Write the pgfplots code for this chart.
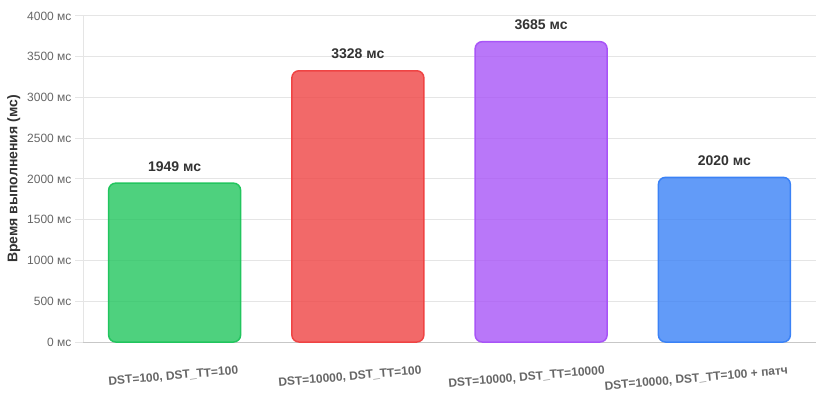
\documentclass[border=0pt]{standalone}
\usepackage{pgfplots}
\pgfplotsset{compat=1.18}
\usepackage{fontspec}
\setmainfont{Liberation Sans}
\definecolor{cgreen}{RGB}{34,197,94}
\definecolor{cred}{RGB}{239,68,68}
\definecolor{cpurple}{RGB}{168,85,247}
\definecolor{cblue}{RGB}{59,130,246}
\definecolor{ctick}{HTML}{666666}
\definecolor{cdark}{HTML}{333333}
\begin{document}
\begin{tikzpicture}
\begin{axis}[
  at={(83bp,52bp)}, anchor=south west,
  scale only axis, width=733bp, height=326bp,
  ybar, bar width=0.72, bar shift=0pt,
  xmin=-0.5, xmax=3.5, ymin=0, ymax=4000,
  xtick={0,1,2,3},
  xticklabels={{DST=100, DST\_TT=100},{DST=10000, DST\_TT=100},{DST=10000, DST\_TT=10000},{DST=10000, DST\_TT=100 + патч}},
  ytick={0,500,1000,1500,2000,2500,3000,3500,4000},
  yticklabels={0 мс,500 мс,1000 мс,1500 мс,2000 мс,2500 мс,3000 мс,3500 мс,4000 мс},
  axis x line*=bottom, axis y line*=left,
  x axis line style={-, draw=black!22, line width=1bp},
  y axis line style={-, draw=black!10, line width=1bp},
  tick align=outside, major tick length=8bp,
  ytick style={draw=black!10, line width=1bp},
  xtick style={draw=none},
  ymajorgrids, grid style={draw=black!10, line width=1bp},
  yticklabel style={font=\fontsize{12bp}{14bp}\selectfont, text=ctick},
  xticklabel style={font=\fontsize{12bp}{14bp}\selectfont\bfseries, text=ctick, anchor=base east, xshift=64bp, yshift=-24bp, rotate=5, inner sep=0pt},
  ylabel={\textbf{Время выполнения (мс)}},
  ylabel style={font=\fontsize{14bp}{16bp}\selectfont, text=cdark},
  /pgf/number format/assume math mode=true,
  nodes near coords={\pgfmathprintnumber[1000 sep={},assume math mode=true]{\pgfplotspointmeta}~мс},
  nodes near coords style={font=\fontsize{14bp}{16bp}\selectfont\bfseries, text=cdark, anchor=base, yshift=12bp, fill opacity=1, text opacity=1},
  every axis plot/.append style={rounded corners=7bp, line width=1.5bp, fill opacity=0.8},
  clip=false,
]
\addplot[draw=cgreen, fill=cgreen] coordinates {(0,1949)};
\addplot[draw=cred, fill=cred] coordinates {(1,3328)};
\addplot[draw=cpurple, fill=cpurple] coordinates {(2,3685)};
\addplot[draw=cblue, fill=cblue] coordinates {(3,2020)};
\end{axis}
\pgfresetboundingbox
\useasboundingbox (0,0) rectangle (816bp,394bp);
\end{tikzpicture}
\end{document}
